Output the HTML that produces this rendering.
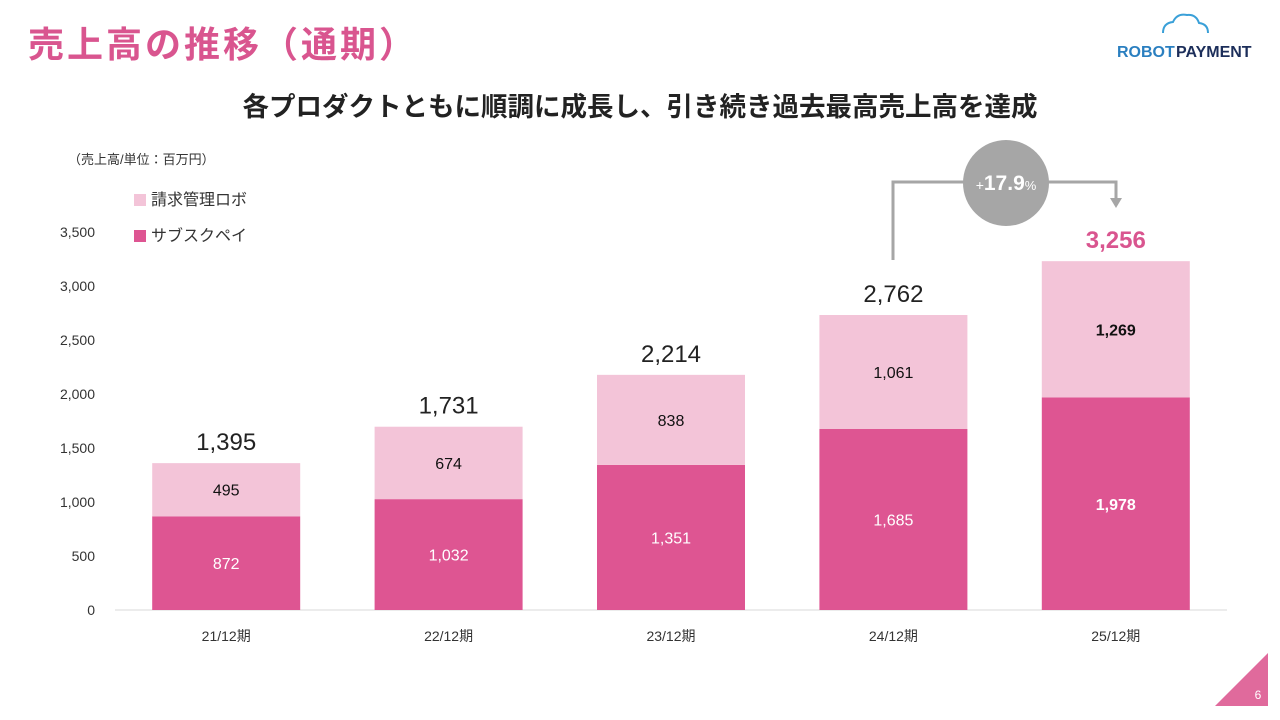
<!DOCTYPE html>
<html><head><meta charset="utf-8">
<style>
body{margin:0;width:1280px;height:720px;background:#fff;overflow:hidden;font-family:"Liberation Sans","Noto Sans CJK JP",sans-serif;}
svg{position:absolute;left:0;top:0}
</style></head>
<body>
<svg id="c" width="1280" height="720" xmlns="http://www.w3.org/2000/svg">
<text x="28" y="57" font-size="36" font-weight="bold" letter-spacing="3" fill="#d9558f" font-family="Liberation Sans,Noto Sans CJK JP,sans-serif">売上高の推移（通期）</text>
<g>
<path d="M1163 33 q0-10 10-11 q4-9 14-7 q9-1 12 8 q9 1 9 10" fill="none" stroke="#3aa0d8" stroke-width="2"/>
<text x="1117" y="57" font-size="16" font-weight="bold" fill="#2a7fc0" font-family="Liberation Sans,sans-serif">ROBOT</text>
<text x="1176" y="57" font-size="16" font-weight="bold" fill="#1c2e5a" font-family="Liberation Sans,sans-serif">PAYMENT</text>
</g>
<text x="640" y="116" font-size="26.5" font-weight="bold" fill="#222" text-anchor="middle" font-family="Liberation Sans,Noto Sans CJK JP,sans-serif">各プロダクトともに順調に成長し、引き続き過去最高売上高を達成</text>
<text x="68" y="164" font-size="13" fill="#333" font-family="Liberation Sans,Noto Sans CJK JP,sans-serif">（売上高/単位：百万円）</text>
<g>
<rect x="134" y="194" width="12" height="12" fill="#f3c4d8"/>
<text x="151" y="205" font-size="16" fill="#333" font-family="Liberation Sans,Noto Sans CJK JP,sans-serif">請求管理ロボ</text>
<rect x="134" y="230" width="12" height="12" fill="#de5592"/>
<text x="151" y="241" font-size="16" fill="#333" font-family="Liberation Sans,Noto Sans CJK JP,sans-serif">サブスクペイ</text>
</g>
<g id="plot"></g>
<g>
<polyline points="893,260 893,182 1116,182 1116,200" fill="none" stroke="#a6a6a6" stroke-width="3"/>
<polygon points="1110,198 1122,198 1116,208" fill="#a6a6a6"/>
<circle cx="1006" cy="183" r="43" fill="#a6a6a6"/>
<text x="1006" y="190" text-anchor="middle" fill="#fff" font-family="Liberation Sans,sans-serif"><tspan font-size="14">+</tspan><tspan font-size="21" font-weight="bold">17.9</tspan><tspan font-size="13">%</tspan></text>
</g>
<polygon points="1215,706 1268,653 1268,706" fill="#e06a9c"/>
<text x="1258" y="699" font-size="12" fill="#fff" text-anchor="middle" font-family="Liberation Sans,sans-serif">6</text>
</svg>
<script>
const categories=["21/12期","22/12期","23/12期","24/12期","25/12期"];
const subscValues=[872,1032,1351,1685,1978];
const seikyuValues=[495,674,838,1061,1269];
const totalLabels=["1,395","1,731","2,214","2,762","3,256"];
const yTicks=[0,500,1000,1500,2000,2500,3000,3500];
const NS="http://www.w3.org/2000/svg";
const g=document.getElementById('plot');
const x0=115,x1=1227,y0=610,yTop=234,yMax=3500;
const y=v=>y0-(v/yMax)*(y0-yTop);
const band=(x1-x0)/categories.length;
const xc=i=>x0+band*(i+0.5);
const bw=148;
function mk(t,a,txt){const e=document.createElementNS(NS,t);for(const k in a)e.setAttribute(k,a[k]);if(txt!=null)e.textContent=txt;g.appendChild(e);return e;}
const fmt=v=>v.toLocaleString('en-US');
yTicks.forEach(t=>{
 const e=mk('text',{x:95,y:y0-(t/yMax)*378+5,'font-size':14,fill:'#333','text-anchor':'end','font-family':'Liberation Sans,sans-serif'},fmt(t));
 
 
});
const ax=mk('line',{x1:x0,x2:x1,y1:y0,y2:y0,stroke:'#d9d9d9','stroke-width':1});


categories.forEach((c,i)=>{
 const a=subscValues[i],b=seikyuValues[i],last=i===categories.length-1;
 const r1=mk('rect',{x:xc(i)-bw/2,y:y(a),width:bw,height:y0-y(a),fill:'#de5592'});
 
 
 const r2=mk('rect',{x:xc(i)-bw/2,y:y(a+b),width:bw,height:y(a)-y(a+b),fill:'#f3c4d8'});
 
 
 const l1=mk('text',{x:xc(i),y:(y(a)+y0)/2+6,'font-size':16,fill:'#fff','text-anchor':'middle','font-weight':last?'bold':'normal','font-family':'Liberation Sans,sans-serif'},fmt(a));
 
 
 const l2=mk('text',{x:xc(i),y:(y(a)+y(a+b))/2+6,'font-size':16,fill:'#111','text-anchor':'middle','font-weight':last?'bold':'normal','font-family':'Liberation Sans,sans-serif'},fmt(b));
 
 
 const tl=mk('text',{x:xc(i),y:y(a+b)-13,'font-size':24,fill:last?'#d9558f':'#222','text-anchor':'middle','font-weight':last?'bold':'normal','font-family':'Liberation Sans,sans-serif'},totalLabels[i]);
 
 
 const cl=mk('text',{x:xc(i),y:y0+31,'font-size':14,fill:'#333','text-anchor':'middle','font-family':'Liberation Sans,Noto Sans CJK JP,sans-serif'},c);
 
 
});
</script>
</body></html>
